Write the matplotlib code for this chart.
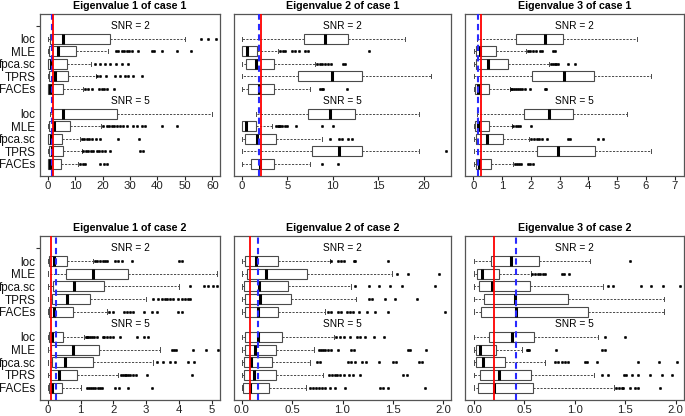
import matplotlib
matplotlib.use('Agg')
import matplotlib.pyplot as plt
from matplotlib.transforms import blended_transform_factory

plt.rcParams['font.family'] = ['Liberation Sans', 'DejaVu Sans']

methods = ['loc', 'MLE', 'fpca.sc', 'TPRS', 'FACEs']
snr_labels = ['SNR = 2', 'SNR = 5']
titles = ['Eigenvalue 1 of case 1', 'Eigenvalue 2 of case 1', 'Eigenvalue 3 of case 1',
          'Eigenvalue 1 of case 2', 'Eigenvalue 2 of case 2', 'Eigenvalue 3 of case 2']

# rows: loc, MLE, fpca.sc, TPRS, FACEs (SNR=2) then the same for SNR=5
# columns: whisker low, Q1, median, Q3, whisker high
e1c1_stats = [[0, 0.85, 5.7, 22.7, 50.0], [0, 0.6, 3.9, 10.2, 22.0], [0, 0.25, 1.1, 6.9, 15.8],
              [0, 0.6, 2.7, 7.5, 17.6], [0, 0.25, 0.85, 5.5, 13.0],
              [0.85, 2.1, 5.7, 25.4, 60.0], [0, 0.6, 2.3, 8.2, 19.3], [0, 0.25, 1.1, 5.1, 11.8],
              [0, 0.5, 1.5, 5.5, 12.4], [0, 0.25, 0.85, 4.7, 11.2]]
e1c1_fliers = [[56.0, 58.5, 61.5],
               [24.8, 25.8, 27.0, 27.8, 28.8, 29.8, 30.6, 33.0, 37.9, 38.8, 41.6, 47.0, 52.1],
               [17.2, 19.0, 21.0, 22.7, 25.0, 27.0, 29.4],
               [18.1, 19.0, 21.3, 24.5, 26.4, 28.0, 29.4, 31.0, 34.3],
               [13.6, 14.8, 16.0, 18.8, 19.7, 20.5, 21.7, 24.0],
               [],
               [20.3, 21.5, 22.5, 23.4, 24.3, 25.2, 26.3, 27.5, 28.8, 31.0, 32.4, 34.3, 35.5, 41.6, 47.0],
               [12.4, 13.2, 14.2, 15.2, 16.0, 17.6, 19.0, 25.8, 33.4],
               [13.0, 14.0, 14.8, 15.7, 16.6, 17.9, 18.8, 19.7, 20.9, 22.7, 33.7, 34.6],
               [11.8, 12.8, 13.6, 19.0, 20.5, 21.7]]

e2c1_stats = [[0, 6.8, 9.1, 11.7, 17.9], [0, 0.07, 0.55, 1.7, 3.95], [0, 0.45, 1.55, 3.6, 8.05],
              [0, 6.15, 9.9, 13.25, 20.8], [0, 0.65, 1.9, 3.6, 7.5],
              [1.55, 7.25, 9.7, 12.4, 19.4], [0, 0.07, 0.45, 1.55, 3.3], [0, 0.35, 1.65, 3.75, 8.8],
              [0, 7.75, 10.7, 13.25, 19.4], [0, 1.0, 2.0, 3.6, 7.5]]
e2c1_fliers = [[],
               [4.2, 4.5, 4.75, 5.5, 5.85, 6.3, 6.95, 7.3, 14.0],
               [8.3, 8.6, 8.85, 9.15, 9.5, 9.8, 11.15, 11.3],
               [],
               [8.6, 8.8, 8.9, 11.5],
               [],
               [3.8, 3.95, 4.1, 4.25, 4.45, 4.7, 4.95, 6.0, 8.8, 10.0],
               [9.7, 10.7, 11.0, 11.7, 12.1],
               [22.4],
               [8.8, 10.6]]

e3c1_stats = [[0.14, 1.5, 2.51, 3.11, 5.71], [0.02, 0.09, 0.23, 0.78, 1.82], [0.02, 0.09, 0.52, 1.21, 2.63],
              [0.02, 2.05, 3.17, 4.21, 6.17], [0.02, 0.06, 0.17, 0.55, 1.27],
              [0.12, 1.75, 2.65, 3.46, 5.36], [0.02, 0.06, 0.17, 0.55, 1.33], [0.02, 0.09, 0.46, 1.04, 1.93],
              [0.02, 2.21, 2.93, 4.24, 6.17], [0.02, 0.09, 0.21, 0.63, 1.38]]
e3c1_fliers = [[],
               [1.9, 1.98, 2.08, 2.17, 2.33, 2.4, 2.77, 2.83],
               [2.71, 2.77, 2.83, 2.88, 2.94, 3.29, 3.52],
               [],
               [1.3, 1.36, 1.42, 1.48, 1.55, 1.62, 1.7, 1.8, 1.96, 2.48, 2.54],
               [],
               [1.38, 1.48, 1.56, 1.62, 2.02],
               [2.02, 2.1, 2.2, 2.3, 2.4, 2.55, 3.29, 3.37, 4.33, 4.5],
               [],
               [1.44, 1.52, 1.59, 1.67, 1.9, 1.96, 2.08]]

e1c2_stats = [[0, 0.04, 0.2, 0.58, 1.39], [0, 0.56, 1.37, 2.46, 5.17], [0, 0.17, 0.8, 1.73, 4.0],
              [0, 0.12, 0.58, 1.29, 2.99], [0, 0.04, 0.19, 0.76, 1.8],
              [0, 0.04, 0.12, 0.46, 1.1], [0, 0.1, 0.78, 1.56, 3.42], [0, 0.12, 0.53, 1.39, 3.2],
              [0, 0.07, 0.33, 0.9, 2.15], [0, 0.04, 0.12, 0.43, 1.0]]
e1c2_fliers = [[1.44, 1.51, 1.6, 1.68, 1.75, 1.82, 2.05, 2.15, 2.26, 2.56, 4.01, 4.09],
               [],
               [4.34, 4.75, 4.87, 5.03, 5.15],
               [3.2, 3.37, 3.48, 3.58, 3.63, 3.73, 3.83, 3.98, 4.09, 4.19, 4.26, 4.34],
               [1.88, 1.98, 2.33, 2.41, 2.51, 2.61, 2.92, 3.17, 3.32, 3.98, 4.09],
               [1.17, 1.2, 1.23, 1.28, 1.34, 1.42, 1.5, 1.68, 1.72, 1.8, 1.9, 1.98, 2.2, 2.71, 2.94, 3.05],
               [3.78, 3.85, 3.9, 4.44, 4.83, 5.2],
               [3.32, 3.51, 3.73, 3.88, 4.29, 4.46],
               [2.22, 2.28, 2.34, 2.4, 2.46, 2.52, 2.6, 2.7, 3.02, 4.39],
               [1.21, 1.27, 1.33, 1.38, 1.45, 1.52, 1.6, 1.65, 2.05, 2.16, 2.46, 3.17]]

e2c2_stats = [[0, 0.033, 0.139, 0.364, 0.876], [0, 0.05, 0.24, 0.645, 1.49], [0, 0.026, 0.17, 0.46, 1.08],
              [0, 0.033, 0.18, 0.486, 1.13], [0, 0.033, 0.165, 0.364, 0.83],
              [0, 0.033, 0.16, 0.40, 0.92], [0, 0.033, 0.13, 0.337, 0.72], [0, 0.026, 0.093, 0.30, 0.68],
              [0, 0.026, 0.126, 0.34, 0.81], [0, 0.017, 0.083, 0.27, 0.64]]
e2c2_fliers = [[0.89, 0.96, 0.985, 1.01, 1.11, 1.12, 1.45],
               [1.54, 1.65, 1.96],
               [1.12, 1.26, 1.36, 1.47, 1.59, 1.92],
               [1.26, 1.29, 1.42, 1.52, 1.74],
               [0.86, 0.89, 0.96, 0.985, 1.04, 1.07, 1.10, 1.16, 1.24, 1.32, 1.45, 2.02],
               [0.94, 0.975, 1.01, 1.07, 1.14, 1.17, 1.22, 1.31, 1.41],
               [0.77, 0.79, 0.81, 0.83, 0.86, 0.89, 0.96, 1.08, 1.11, 1.65, 1.67, 1.83],
               [0.75, 0.78, 1.05, 1.08, 1.12, 1.19, 1.23, 1.36, 1.5, 1.53, 1.76, 1.79],
               [0.87, 0.9, 0.93, 0.95, 0.98, 1.01, 1.06, 1.1, 1.17, 1.6, 1.64],
               [0.68, 0.71, 0.74, 0.77, 0.8, 0.83, 0.88, 0.93, 1.02, 1.37, 1.4, 1.45, 1.82]]

e3c2_stats = [[0, 0.165, 0.37, 0.645, 1.15], [0, 0.026, 0.083, 0.25, 0.565], [0, 0.05, 0.175, 0.555, 1.28],
              [0, 0.10, 0.41, 0.935, 1.88], [0, 0.066, 0.42, 1.13, 1.88],
              [0, 0.15, 0.38, 0.595, 1.23], [0, 0.017, 0.06, 0.22, 0.48], [0, 0.017, 0.086, 0.31, 0.70],
              [0, 0.06, 0.25, 0.57, 1.19], [0, 0.036, 0.2, 0.59, 1.39]]
e3c2_fliers = [[1.55],
               [0.58, 0.6, 0.63, 0.655, 0.68, 0.70, 0.87, 0.89, 0.94],
               [1.33, 1.38, 1.66, 1.75, 1.87, 2.04],
               [],
               [],
               [1.30, 1.5],
               [0.53, 0.54, 0.55, 0.81, 1.27, 1.30],
               [0.80, 0.83, 0.87, 0.90, 0.93, 1.10, 1.12, 1.22, 1.63, 1.83, 2.01],
               [1.27, 1.33, 1.49, 1.51, 1.57, 1.63, 1.74, 1.86, 1.96],
               [1.41, 1.44, 1.47, 1.48, 1.55, 1.60, 1.63, 1.84]]

true_vals = [1.75, 2.1, 0.27, 0.09, 0.08, 0.2]      # red solid lines
est_vals = [1.5, 1.9, 0.17, 0.24, 0.165, 0.42]      # blue dashed lines

all_stats = [e1c1_stats, e2c1_stats, e3c1_stats, e1c2_stats, e2c2_stats, e3c2_stats]
all_fliers = [e1c1_fliers, e2c1_fliers, e3c1_fliers, e1c2_fliers, e2c2_fliers, e3c2_fliers]

xlims = [(-2.7, 62.8), (-0.81, 22.93), (-0.29, 7.33), (-0.226, 5.25), (-0.073, 2.073), (-0.089, 2.082)]
xticks = [[0, 10, 20, 30, 40, 50, 60], [0, 5, 10, 15, 20], [0, 1, 2, 3, 4, 5, 6, 7],
          [0, 1, 2, 3, 4, 5], [0.0, 0.5, 1.0, 1.5, 2.0], [0.0, 0.5, 1.0, 1.5, 2.0]]
xticklabels = [[str(v) for v in xticks[0]], [str(v) for v in xticks[1]], [str(v) for v in xticks[2]],
               [str(v) for v in xticks[3]], ['%.1f' % v for v in xticks[4]], ['%.1f' % v for v in xticks[5]]]

W, H = 685, 416
fig = plt.figure(figsize=(W / 100, H / 100), dpi=100)
col_lr = [(40.3, 220.0), (234.3, 450.7), (465.0, 684.0)]
row_tb = [(14.0, 176.0), (236.0, 400.0)]

positions = [2, 3, 4, 5, 6, 8, 9, 10, 11, 12]
edge = '#4a4a4a'

for k in range(6):
    r, c = divmod(k, 3)
    l, rr = col_lr[c]
    t, b = row_tb[r]
    ax = fig.add_axes([l / W, (H - b) / H, (rr - l) / W, (b - t) / H])
    stats = []
    for s, f in zip(all_stats[k], all_fliers[k]):
        stats.append(dict(whislo=s[0], q1=s[1], med=s[2], q3=s[3], whishi=s[4], fliers=f))
    ax.bxp(stats, positions=positions, widths=0.8, orientation='horizontal', capwidths=0.35,
           patch_artist=True,
           boxprops=dict(facecolor='white', edgecolor=edge, linewidth=0.8),
           medianprops=dict(color='black', linewidth=2.2, solid_capstyle='butt'),
           whiskerprops=dict(color=edge, linewidth=0.7, linestyle=(0, (2.2, 1.4))),
           capprops=dict(color=edge, linewidth=0.7),
           flierprops=dict(marker='o', markersize=1.8, markerfacecolor='black',
                           markeredgecolor='black', markeredgewidth=0.3, linestyle='none'))
    ax.axvline(est_vals[k], color='#2a2aff', lw=1.5, ls=(0, (3, 2)), zorder=5)
    ax.axvline(true_vals[k], color='red', lw=1.3, zorder=6)
    ax.set_xlim(*xlims[k])
    ax.set_ylim(12.98, 0.02)
    ax.set_xticks(xticks[k])
    ax.set_xticklabels(xticklabels[k])
    ax.tick_params(axis='x', length=3, width=0.8, pad=0.6, labelsize=8.2, colors='#222222')
    if c == 0:
        ax.set_yticks([2, 3, 4, 5, 6, 8, 9, 10, 11, 12])
        ax.set_yticklabels(methods * 2)
        ax.tick_params(axis='y', which='major', length=0, pad=3.5, labelsize=8.4, colors='#111111')
        ax.set_yticks([1], minor=True)
        ax.tick_params(axis='y', which='minor', length=3, width=0.8, color='#333333')
    else:
        ax.set_yticks([])
    tr = blended_transform_factory(ax.transAxes, ax.transData)
    ax.text(0.5, 1, snr_labels[0], transform=tr, ha='center', va='center', fontsize=7.3)
    ax.text(0.5, 7, snr_labels[1], transform=tr, ha='center', va='center', fontsize=7.3)
    ax.set_title(titles[k], fontsize=7.7, fontweight='bold', pad=3.5)
    for sp in ax.spines.values():
        sp.set_color('#555555')
        sp.set_linewidth(0.9)

fig.savefig('out.png', dpi=100)
